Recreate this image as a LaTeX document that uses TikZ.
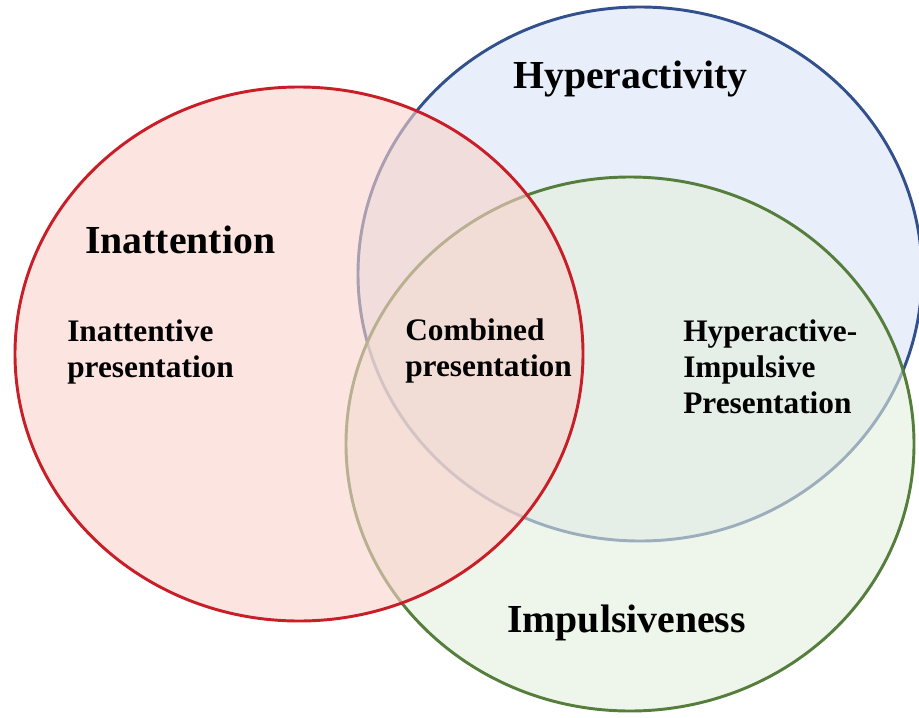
\documentclass[tikz,border=0pt]{standalone}
\usepackage{fontspec}
\setmainfont{Liberation Serif}
\definecolor{redline}{RGB}{200,30,40}
\definecolor{redfill}{RGB}{250,210,203}
\definecolor{blueline}{RGB}{50,80,140}
\definecolor{bluefill}{RGB}{218,228,247}
\definecolor{greenline}{RGB}{85,125,60}
\definecolor{greenfill}{RGB}{227,238,220}
\begin{document}
\begin{tikzpicture}[x=0.75pt,y=0.75pt,yscale=-1,xscale=1,
  settxt/.style={fill opacity=0.6,line width=2.2pt},
  bigtxt/.style={anchor=base west,inner sep=0pt,font=\fontsize{29.8}{34}\selectfont\bfseries},
  smalltxt/.style={anchor=base west,inner sep=0pt,align=left,font=\fontsize{23.5}{27}\selectfont\bfseries}]
\path[use as bounding box] (0,0) rectangle (919,717);

%Shape: Ellipse [id:hyperactivity]
\draw [settxt,draw=blueline,fill=bluefill,draw opacity=1] (640,274) ellipse [x radius=282,y radius=267];
%Shape: Ellipse [id:impulsiveness]
\draw [settxt,draw=greenline,fill=greenfill,draw opacity=1] (630,444) ellipse [x radius=284,y radius=267];
%Shape: Ellipse [id:inattention]
\draw [settxt,draw=redline,fill=redfill,draw opacity=1] (299,354) ellipse [x radius=284,y radius=267];

% Text Node (base = last line)
\draw (513,89) node [bigtxt] (hyper) {Hyperactivity};
% Text Node
\draw (85,253) node [bigtxt] (inatt) {Inattention};
% Text Node
\draw (507,632) node [bigtxt] (impul) {Impulsiveness};
% Text Node
\draw (67,377) node [smalltxt] (inattpres) {Inattentive\\presentation};
% Text Node
\draw (405,376) node [smalltxt] (combpres) {Combined\\presentation};
% Text Node
\draw (683,413) node [smalltxt] (hyperpres) {Hyperactive-\\Impulsive\\Presentation};

\end{tikzpicture}
\end{document}
